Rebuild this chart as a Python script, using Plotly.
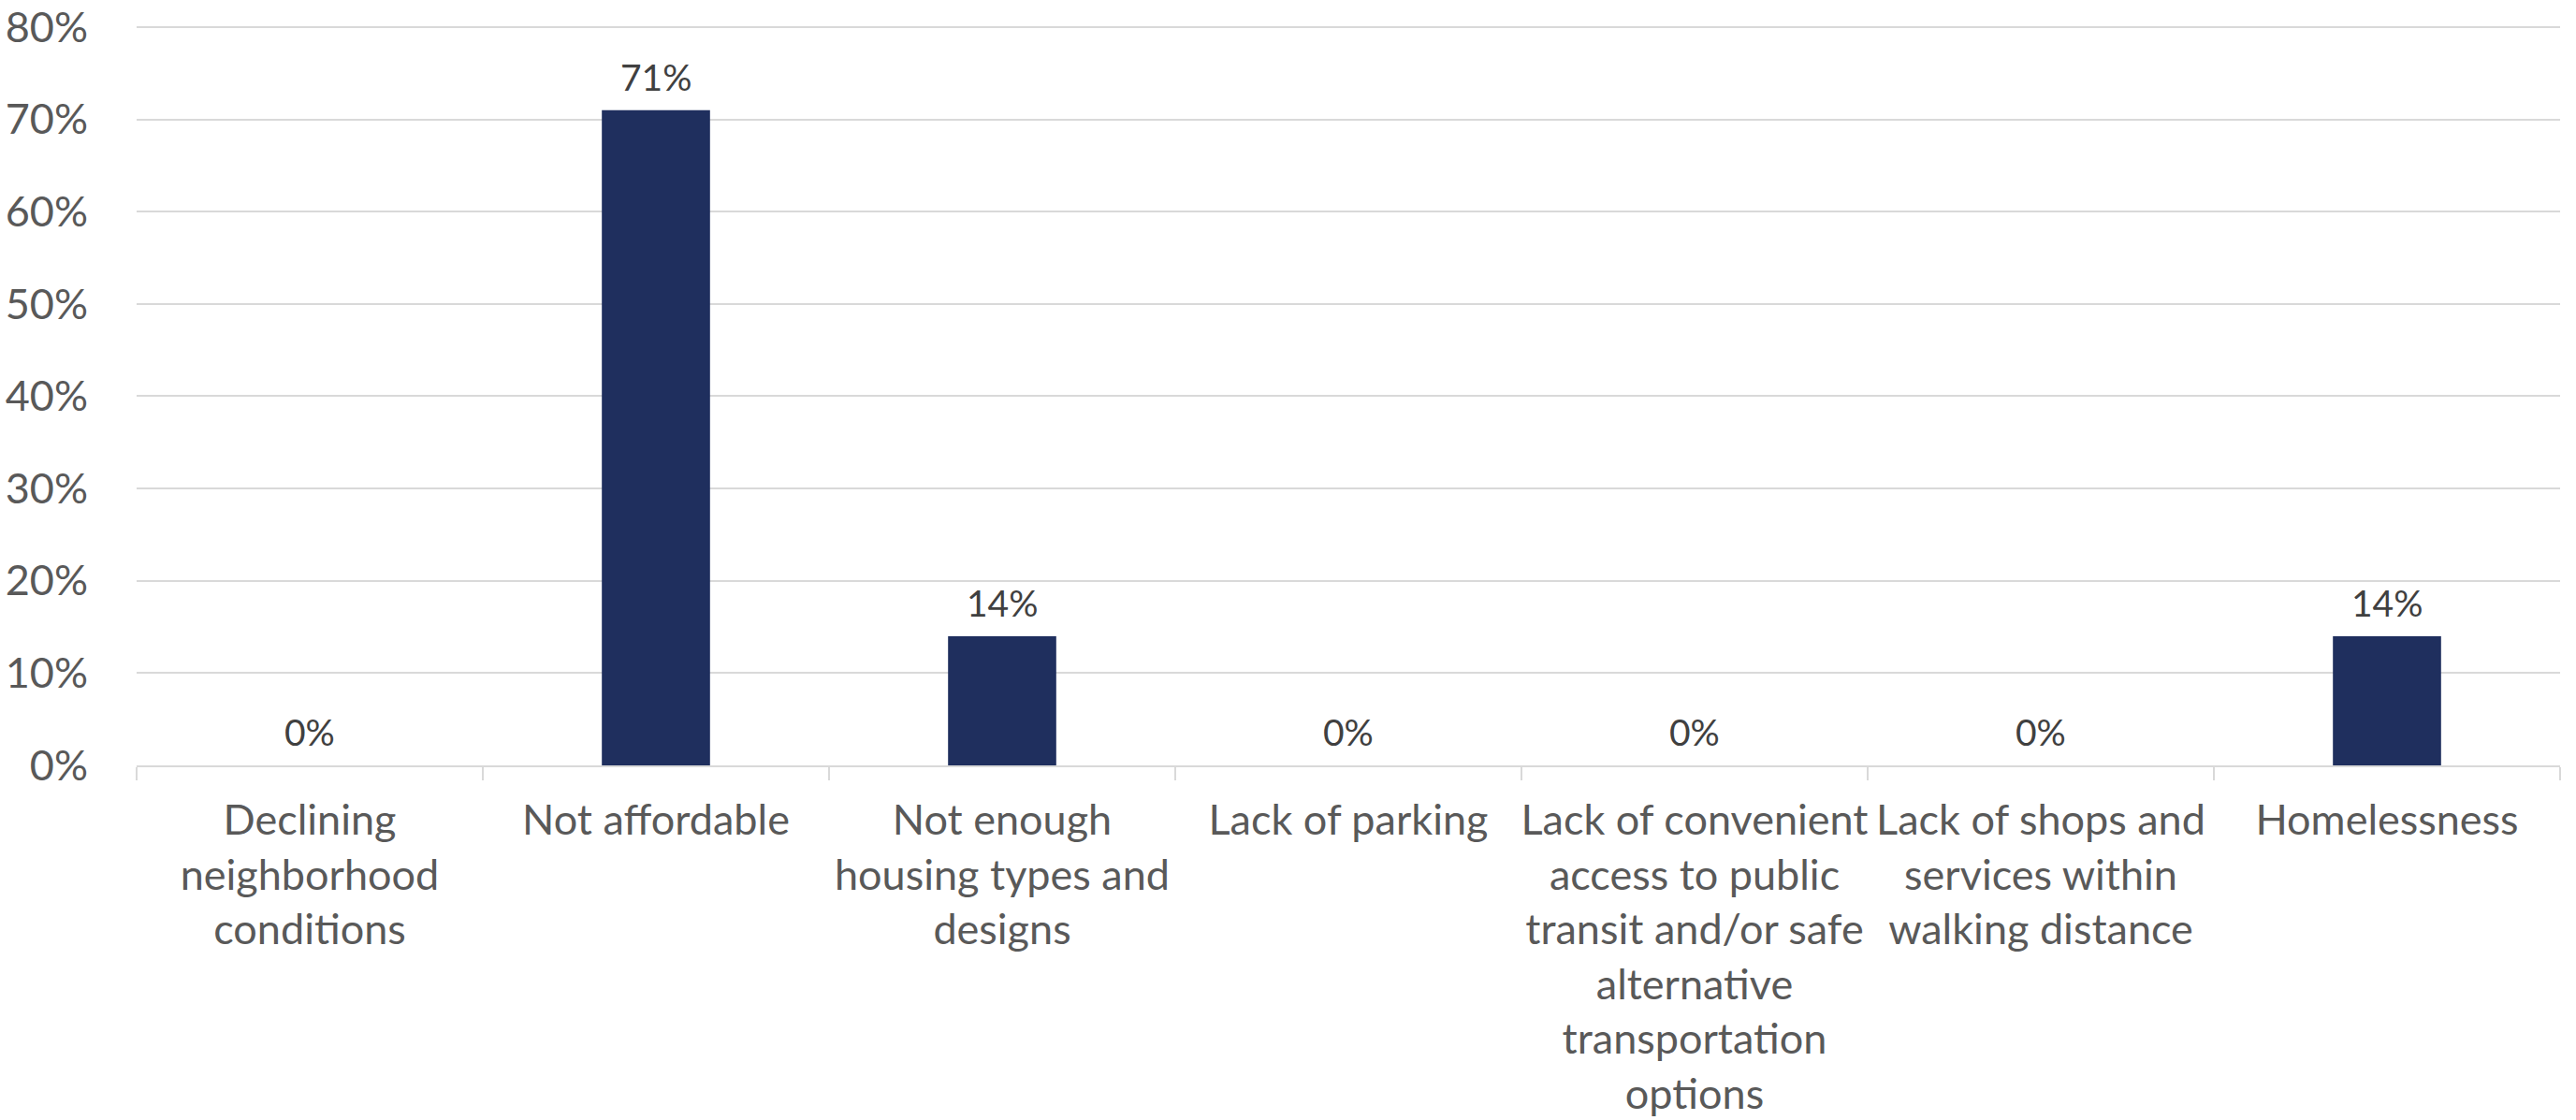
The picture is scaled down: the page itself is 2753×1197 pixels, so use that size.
import plotly.graph_objects as go

# Survey responses: share of respondents naming each housing concern
categories = [
    "Declining<br>neighborhood<br>conditions",
    "Not affordable",
    "Not enough<br>housing types and<br>designs",
    "Lack of parking",
    "Lack of convenient<br>access to public<br>transit and/or safe<br>alternative<br>transportation<br>options",
    "Lack of shops and<br>services within<br>walking distance",
    "Homelessness",
]
shares = [0.0, 0.71, 0.14, 0.0, 0.0, 0.0, 0.14]
y_ticks = [0.0, 0.1, 0.2, 0.3, 0.4, 0.5, 0.6, 0.7, 0.8]

BAR_COLOR = "#1F2F5E"
GRID_COLOR = "#D9D9D9"
AXIS_TEXT = "#595959"
LABEL_TEXT = "#404040"
FONT = "Lato"

fig = go.Figure(
    go.Bar(
        x=categories,
        y=shares,
        marker=dict(color=BAR_COLOR, line=dict(width=0)),
        hoverinfo="skip",
    )
)

# Value labels above each bar (including the zero-height ones)
for cat, val in zip(categories, shares):
    fig.add_annotation(
        x=cat,
        y=val,
        xref="x",
        yref="y",
        text=f"{val:.0%}",
        showarrow=False,
        yanchor="bottom",
        yshift=11,
        font=dict(family=FONT, size=39, color=LABEL_TEXT),
    )

fig.update_layout(
    width=2753,
    height=1197,
    margin=dict(l=146, r=17, t=23.6, b=379, autoexpand=False),
    paper_bgcolor="white",
    plot_bgcolor="white",
    bargap=0.6875,
    showlegend=False,
    font=dict(family=FONT, color=AXIS_TEXT),
)

fig.update_xaxes(
    type="category",
    automargin=False,
    showline=True,
    linecolor=GRID_COLOR,
    linewidth=2,
    ticks="outside",
    tickson="boundaries",
    ticklen=14,
    tickwidth=2,
    tickcolor=GRID_COLOR,
    showgrid=False,
    ticklabelstandoff=18,
    tickfont=dict(family=FONT, size=45, color=AXIS_TEXT),
    tickangle=0,
)

fig.update_yaxes(
    range=[0, 0.805],
    automargin=False,
    tickvals=y_ticks,
    tickformat=".0%",
    showgrid=True,
    gridcolor=GRID_COLOR,
    gridwidth=2,
    zeroline=False,
    showline=False,
    ticks="outside",
    ticklen=42,
    tickcolor="rgba(0,0,0,0)",
    ticklabeloverflow="allow",
    tickfont=dict(family=FONT, size=45, color=AXIS_TEXT),
)

fig.write_html("out.html")
